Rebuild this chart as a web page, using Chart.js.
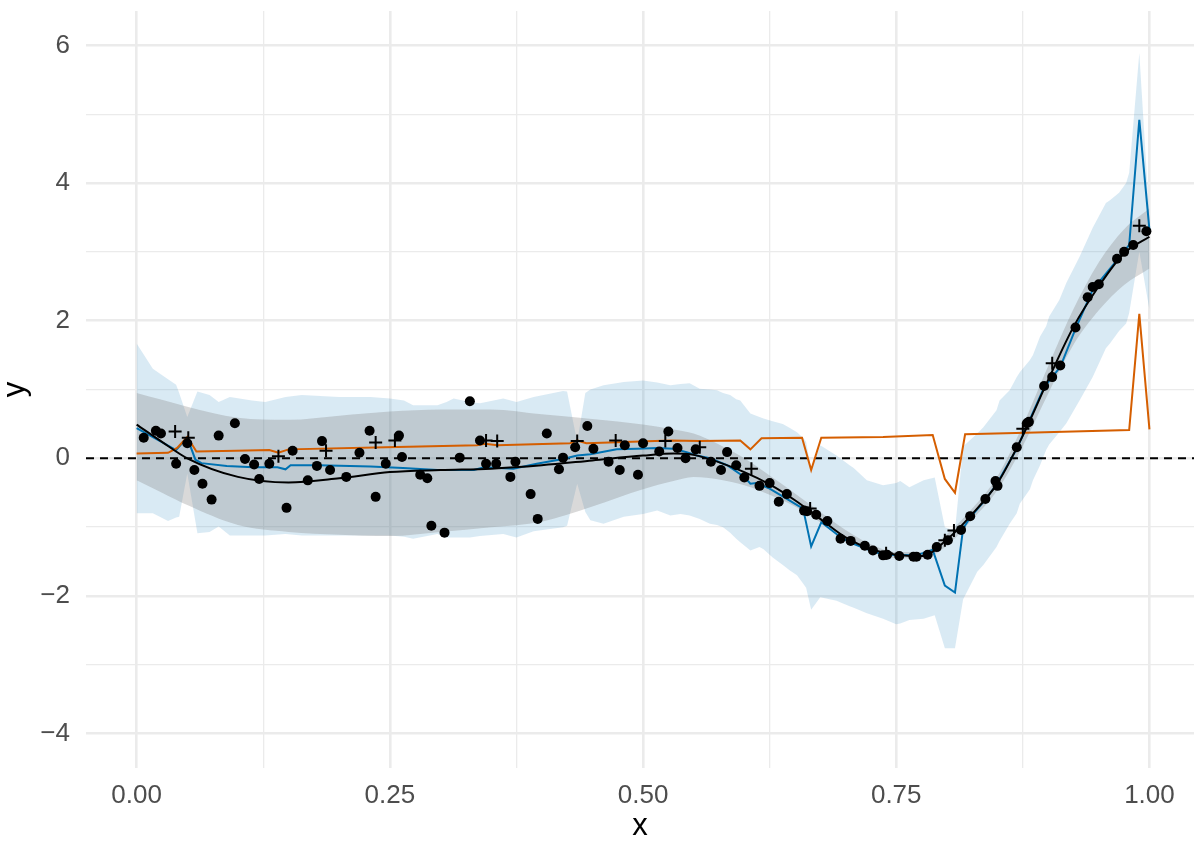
<!DOCTYPE html>
<html>
<head>
<meta charset="utf-8">
<script src="https://cdn.jsdelivr.net/npm/chart.js@4.4.1/dist/chart.umd.min.js"></script>
<style>
  html, body { margin: 0; padding: 0; background: #fff; }
  canvas { display: block; }
</style>
</head>
<body>
<canvas id="c" width="1194" height="842"></canvas>
<script>
// observed points (dots)
const obsX = [0.007,0.019,0.024,0.039,0.050,0.057,0.065,0.074,0.081,0.097,0.107,0.116,0.121,0.131,0.148,0.154,0.169,0.178,0.183,0.191,
  0.207,0.220,0.230,0.236,0.246,0.259,0.262,0.280,0.287,0.291,0.304,0.319,0.329,0.339,0.345,0.355,0.369,0.374,0.389,0.396,
  0.405,0.417,0.421,0.433,0.445,0.451,0.466,0.477,0.482,0.495,0.500,0.516,0.525,0.534,0.542,0.552,0.567,0.577,0.583,0.592,
  0.600,0.615,0.625,0.634,0.642,0.659,0.662,0.671,0.682,0.695,0.705,0.719,0.727,0.737,0.741,0.753,0.767,0.770,0.781,0.790,
  0.801,0.814,0.823,0.838,0.848,0.850,0.869,0.879,0.881,0.896,0.904,0.912,0.927,0.939,0.944,0.950,0.968,0.975,0.984,0.997];
const obsY = [0.30,0.40,0.36,-0.08,0.22,-0.17,-0.37,-0.60,0.33,0.51,-0.01,-0.09,-0.30,-0.08,-0.72,0.11,-0.32,-0.11,0.25,-0.17,
  -0.27,0.08,0.40,-0.56,-0.08,0.33,0.02,-0.24,-0.29,-0.98,-1.08,0.01,0.83,0.26,-0.08,-0.08,-0.27,-0.05,-0.52,-0.88,
  0.36,-0.16,0.01,0.16,0.47,0.14,-0.05,-0.17,0.19,-0.24,0.22,0.10,0.39,0.15,0.00,0.13,-0.05,-0.17,0.09,-0.10,
  -0.28,-0.40,-0.36,-0.63,-0.52,-0.76,-0.77,-0.82,-0.91,-1.17,-1.20,-1.27,-1.34,-1.41,-1.40,-1.42,-1.43,-1.43,-1.40,-1.29,
  -1.19,-1.04,-0.84,-0.59,-0.33,-0.40,0.16,0.51,0.53,1.05,1.18,1.35,1.90,2.34,2.49,2.53,2.90,3.00,3.10,3.30];

// test points (plus markers)
const testX = [0.038,0.051,0.140,0.187,0.236,0.255,0.345,0.356,0.435,0.473,0.522,0.556,0.607,0.665,0.740,0.798,0.807,0.875,0.904,0.990];
const testY = [0.39,0.30,0.03,0.11,0.23,0.26,0.26,0.25,0.25,0.26,0.25,0.16,-0.15,-0.73,-1.38,-1.19,-1.05,0.43,1.38,3.38];

// blue prediction line
const predX = [0,0.039,0.050,0.058,0.064,0.089,0.115,0.139,0.147,0.152,0.180,0.231,0.263,0.297,0.333,0.343,0.372,0.395,0.421,0.435,
  0.448,0.474,0.494,0.514,0.530,0.543,0.553,0.566,0.583,0.600,0.606,0.612,0.625,0.642,0.658,0.666,0.676,0.691,0.704,0.721,
  0.737,0.770,0.786,0.798,0.808,0.816,0.823,0.838,0.849,0.869,0.880,0.896,0.912,0.927,0.944,0.968,0.980,0.990,1.000];
const predY = [0.44,0.12,0.30,-0.02,-0.07,-0.11,-0.13,-0.13,-0.16,-0.10,-0.10,-0.12,-0.14,-0.17,-0.17,-0.13,-0.15,-0.08,-0.01,0.04,
  0.06,0.13,0.14,0.15,0.14,0.09,0.04,0.00,-0.10,-0.27,-0.37,-0.36,-0.44,-0.59,-0.73,-1.28,-0.93,-1.10,-1.22,-1.32,
  -1.40,-1.41,-1.33,-1.85,-1.95,-1.02,-0.86,-0.60,-0.38,0.14,0.50,1.03,1.33,1.88,2.45,2.88,3.10,4.92,3.32];

// light blue band around prediction
const bandX = [0,0.016,0.031,0.039,0.042,0.050,0.060,0.072,0.081,0.092,0.114,0.127,0.147,0.163,0.200,0.231,0.250,0.264,0.273,0.297,
  0.306,0.313,0.329,0.339,0.362,0.375,0.392,0.421,0.425,0.435,0.443,0.448,0.461,0.481,0.500,0.514,0.527,0.537,0.546,0.556,
  0.566,0.573,0.579,0.586,0.592,0.596,0.606,0.615,0.619,0.628,0.638,0.645,0.652,0.658,0.661,0.666,0.675,0.691,0.704,0.708,
  0.721,0.737,0.750,0.754,0.763,0.777,0.788,0.798,0.808,0.816,0.830,0.836,0.849,0.852,0.862,0.869,0.872,0.882,0.885,0.892,
  0.898,0.901,0.911,0.918,0.931,0.944,0.957,0.961,0.970,0.977,0.980,0.990,1.000];
const bandLo = [-0.80,-0.80,-0.91,-0.86,-0.85,-0.22,-1.09,-1.07,-0.99,-1.12,-1.12,-1.12,-1.10,-1.12,-1.12,-1.12,-1.12,-1.14,-1.17,-1.10,
  -1.15,-1.15,-1.15,-1.13,-1.10,-1.15,-1.06,-1.00,-0.98,-0.37,-0.78,-0.90,-0.95,-0.85,-0.81,-0.76,-0.83,-0.81,-0.83,-0.88,
  -0.95,-0.97,-1.00,-1.08,-1.17,-1.22,-1.34,-1.29,-1.32,-1.44,-1.55,-1.63,-1.70,-1.82,-1.88,-2.20,-2.02,-2.07,-2.15,-2.17,
  -2.25,-2.33,-2.41,-2.40,-2.35,-2.33,-2.28,-2.76,-2.76,-2.05,-1.65,-1.55,-1.29,-1.20,-0.95,-0.80,-0.66,-0.45,-0.32,-0.10,
  0.12,0.20,0.38,0.51,0.84,1.18,1.60,1.67,1.85,1.96,2.11,3.00,2.16];
const bandHi = [1.67,1.30,1.15,1.07,0.95,0.60,0.97,0.92,0.82,0.89,0.84,0.82,0.89,0.92,0.89,0.89,0.87,0.84,0.77,0.77,
  0.82,0.87,0.82,0.80,0.87,0.82,0.89,0.98,0.97,0.24,0.95,1.00,1.06,1.11,1.13,1.10,1.06,1.08,1.09,1.01,
  1.00,0.99,0.95,0.92,0.86,0.84,0.65,0.60,0.58,0.54,0.50,0.44,0.38,0.30,0.24,-0.17,0.19,0.04,-0.10,-0.14,
  -0.32,-0.39,-0.36,-0.33,-0.42,-0.32,-0.28,-1.00,-1.05,0.17,0.36,0.45,0.70,0.84,0.99,1.18,1.25,1.43,1.50,1.77,
  1.92,2.06,2.30,2.55,2.93,3.35,3.71,3.75,3.86,4.00,4.15,5.89,3.50];

// black smooth fit with grey band
const fitX = [0,0.025,0.05,0.10,0.15,0.20,0.25,0.30,0.35,0.40,0.45,0.50,0.53,0.55,0.60,0.625,0.65,0.675,0.70,0.725,
  0.75,0.775,0.80,0.825,0.85,0.875,0.90,0.925,0.95,0.975,1.00];
const fitY = [0.49,0.24,0.00,-0.27,-0.35,-0.29,-0.20,-0.17,-0.15,-0.10,-0.03,0.04,0.07,0.05,-0.20,-0.38,-0.61,-0.88,-1.15,-1.32,
  -1.40,-1.42,-1.18,-0.81,-0.36,0.33,1.14,1.91,2.50,2.98,3.22];
const fitLo = [-0.32,-0.50,-0.68,-0.97,-1.07,-1.11,-1.13,-1.07,-1.00,-0.92,-0.70,-0.45,-0.33,-0.27,-0.39,-0.53,-0.70,-0.93,-1.16,-1.36,
  -1.45,-1.46,-1.27,-0.89,-0.46,0.18,0.94,1.65,2.15,2.52,2.76];
const fitHi = [0.95,0.85,0.75,0.59,0.56,0.62,0.68,0.71,0.71,0.64,0.57,0.49,0.42,0.36,0.00,-0.25,-0.51,-0.78,-1.04,-1.25,
  -1.36,-1.36,-1.10,-0.73,-0.26,0.48,1.34,2.17,2.85,3.33,3.63];

// orange line
const errX = [0,0.031,0.040,0.050,0.059,0.098,0.131,0.140,0.150,0.246,0.336,0.344,0.356,0.428,0.435,0.444,0.527,0.556,0.596,0.606,
  0.617,0.657,0.666,0.676,0.737,0.786,0.798,0.808,0.818,0.878,0.980,0.990,1.000];
const errY = [0.07,0.08,0.15,0.31,0.10,0.11,0.12,0.08,0.13,0.16,0.19,0.21,0.19,0.22,0.26,0.22,0.26,0.25,0.26,0.13,
  0.29,0.30,-0.17,0.30,0.31,0.34,-0.30,-0.50,0.35,0.37,0.41,2.10,0.42];

const xMin = -0.05, xMax = 1.044, yMin = -4.5, yMax = 6.5;

const pts = (xs, ys) => xs.map((x, i) => ({ x: x, y: ys[i] }));
const tickText = '#4d4d4d';
const gridCol = '#ebebeb';
const font = 'Liberation Sans, Arial, Helvetica, sans-serif';
const isMajorX = v => Math.abs(v * 4 - Math.round(v * 4)) < 1e-6;
const minus = s => s.replace('-', '\u2212');
// keep the panel edges where ggplot put them
const noPad = s => { s.paddingTop = 0; s.paddingBottom = 0; s.paddingLeft = 0; s.paddingRight = 0; };

new Chart(document.getElementById('c'), {
  type: 'line',
  data: {
    datasets: [
      { data: pts(bandX, bandLo), borderWidth: 0, pointRadius: 0, fill: false, order: 9 },
      { data: pts(bandX, bandHi), borderWidth: 0, pointRadius: 0, fill: { target: 0 },
        backgroundColor: 'rgba(0,114,178,0.15)', order: 9 },
      { data: pts(fitX, fitLo), borderWidth: 0, pointRadius: 0, fill: false, cubicInterpolationMode: 'monotone', order: 8 },
      { data: pts(fitX, fitHi), borderWidth: 0, pointRadius: 0, fill: { target: 2 }, cubicInterpolationMode: 'monotone',
        backgroundColor: 'rgba(128,128,128,0.3)', order: 8 },
      { data: [{ x: xMin, y: 0 }, { x: xMax, y: 0 }], borderColor: '#000', borderWidth: 2,
        borderDash: [8, 6], pointRadius: 0, fill: false, order: 5 },
      { data: pts(predX, predY), borderColor: '#0072B2', borderWidth: 2, pointRadius: 0, fill: false, order: 4 },
      { data: pts(errX, errY), borderColor: '#D55E00', borderWidth: 2, pointRadius: 0, fill: false, order: 3 },
      { data: pts(fitX, fitY), borderColor: '#000', borderWidth: 2, pointRadius: 0, fill: false,
        cubicInterpolationMode: 'monotone', order: 2 },
      { data: pts(obsX, obsY), showLine: false, pointRadius: 5, pointBackgroundColor: '#000',
        pointBorderColor: '#000', pointBorderWidth: 0, order: 1 },
      { data: pts(testX, testY), showLine: false, pointStyle: 'cross', pointRadius: 6.5,
        pointBorderColor: '#000', pointBorderWidth: 2, order: 0 }
    ]
  },
  options: {
    responsive: false,
    devicePixelRatio: 1,
    animation: false,
    events: [],
    layout: { autoPadding: false, padding: { top: 11, right: 0, left: 0, bottom: 0 } },
    plugins: { legend: { display: false }, tooltip: { enabled: false } },
    scales: {
      x: {
        type: 'linear', min: xMin, max: xMax,
        afterBuildTicks: s => { s.ticks = [0, 0.125, 0.25, 0.375, 0.5, 0.625, 0.75, 0.875, 1].map(v => ({ value: v })); },
        afterFit: s => { s.height = 74; noPad(s); },
        border: { display: false },
        grid: {
          color: gridCol, drawTicks: false,
          lineWidth: c => (c.tick && isMajorX(c.tick.value)) ? 2.6 : 1.3
        },
        ticks: {
          autoSkip: false, maxRotation: 0, padding: 12, color: tickText,
          font: { family: font, size: 26 },
          callback: v => isMajorX(v) ? v.toFixed(2) : ''
        },
        title: { display: true, text: 'x', color: '#000', font: { family: font, size: 31, lineHeight: 1 },
          padding: { top: 0, bottom: 0 } }
      },
      y: {
        type: 'linear', min: yMin, max: yMax,
        afterBuildTicks: s => { s.ticks = [-4, -3, -2, -1, 0, 1, 2, 3, 4, 5, 6].map(v => ({ value: v })); },
        afterFit: s => { s.width = 86; noPad(s); },
        border: { display: false },
        grid: {
          color: gridCol, drawTicks: false,
          lineWidth: c => (c.tick && c.tick.value % 2 === 0) ? 2.6 : 1.3
        },
        ticks: {
          autoSkip: false, padding: 16, color: tickText,
          font: { family: font, size: 26 },
          callback: v => (v % 2 === 0) ? minus(String(v)) : ''
        },
        title: { display: true, text: 'y', color: '#000', font: { family: font, size: 31, lineHeight: 1 },
          padding: { top: 0, bottom: 0 } }
      }
    }
  }
});
</script>
</body>
</html>
